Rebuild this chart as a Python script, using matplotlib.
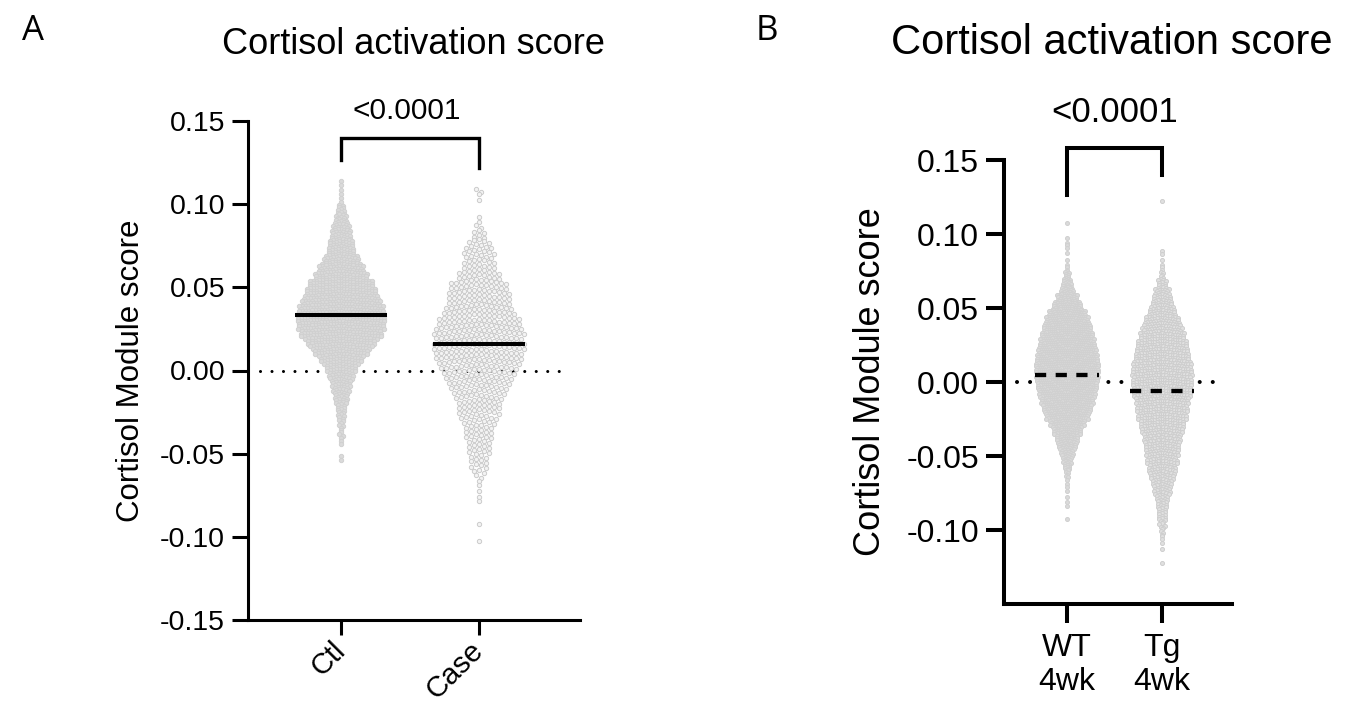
import numpy as np
import matplotlib
matplotlib.use("Agg")
import matplotlib.pyplot as plt
from matplotlib.transforms import ScaledTranslation

plt.rcParams['font.family'] = ['Liberation Sans', 'DejaVu Sans']

# ---------------------------------------------------------------------------
# Data: number of cells per 0.005-wide module-score bin, listed from the
# highest bin downwards, plus the median of each group.
# ---------------------------------------------------------------------------
BIN = 0.005

a_labels = ["Ctl", "Case"]
a_ctl_top = 0.115
a_ctl_counts = [2, 2, 2, 8, 12, 18, 22, 26, 30, 38, 48, 58, 70, 77, 85, 92,
                97, 94, 89, 74, 61, 47, 34, 28, 22, 17, 14, 10, 7, 5, 4, 3,
                0, 2]
a_case_top = 0.110
a_case_counts = [3, 1, 0, 1, 3, 5, 8, 11, 11, 12, 15, 20, 21, 22, 24, 27,
                 30, 31, 31, 31, 30, 26, 24, 21, 18, 16, 15, 13, 11, 10, 9,
                 8, 7, 6, 4, 2, 1, 2, 0, 0, 1, 0, 1]
a_medians = [0.0336, 0.016]
a_pvalue = "<0.0001"

b_labels = ["WT\n4wk", "Tg\n4wk"]
b_wt_top = 0.110
b_wt_counts = [1, 0, 1, 3, 1, 1, 3, 8, 14, 22, 34, 50, 66, 76, 84, 90, 96,
               102, 106, 110, 110, 108, 104, 98, 92, 84, 76, 62, 50, 38, 30,
               22, 15, 10, 5, 2, 2, 1, 2, 0, 1]
b_tg_top = 0.125
b_tg_counts = [1, 0, 0, 0, 0, 0, 0, 2, 1, 3, 5, 9, 15, 20, 24, 30, 38, 44,
               49, 53, 57, 60, 64, 66, 65, 64, 62, 58, 56, 53, 49, 45, 41, 38,
               35, 33, 31, 27, 22, 19, 14, 11, 9, 8, 6, 4, 2, 1, 0, 1]
b_medians = [0.005, -0.006]
b_pvalue = "<0.0001"

title = "Cortisol activation score"
ylabel = "Cortisol Module score"

# ---------------------------------------------------------------------------
W, H, DPI = 1345, 712, 100
fig = plt.figure(figsize=(W / DPI, H / DPI), dpi=DPI)


def bin_values(top, counts):
    """Spread each bin's cells evenly through that bin (descending)."""
    vals = []
    for i, n in enumerate(counts):
        hi = top - i * BIN
        for k in range(n):
            vals.append(hi - (k + 0.5) / n * BIN)
    return np.array(vals)


def row_offsets(vals, px_y, row_px, step_px):
    """Scatter-dot layout: cells falling in the same row are set side by
    side, centred on the group position.  Returns offsets in px."""
    rows = np.floor((vals.max() - vals) * px_y / row_px).astype(int)
    offs = np.zeros_like(vals)
    for r in np.unique(rows):
        idx = np.where(rows == r)[0]
        k = len(idx)
        pos = (np.arange(k) - (k - 1) / 2.0) * step_px
        offs[idx] = pos[np.argsort(np.abs(pos), kind="stable")]
    return offs


def make_axes(left, right, top, bottom):
    return fig.add_axes([left / W, 1 - bottom / H, (right - left) / W,
                         (bottom - top) / H])


def draw_group(ax, pos, vals, px_x, px_y, row_px, step_px, ms, face, edge):
    offs = row_offsets(vals, px_y, row_px, step_px) / px_x
    ax.scatter(pos + offs, vals, s=ms ** 2, facecolor=face, edgecolor=edge,
               linewidths=0.7, zorder=2, clip_on=False)


# ---------------------------- Panel A --------------------------------------
axA = make_axes(248, 580, 121, 620)
xlimA = (-0.674, 1.732)
ylimA = (-0.15, 0.15)
axA.set_xlim(*xlimA)
axA.set_ylim(*ylimA)
pxA_x = (580 - 248) / (xlimA[1] - xlimA[0])
pxA_y = (620 - 121) / (ylimA[1] - ylimA[0])

axA.plot([-0.587, 1.645], [0, 0], color="black", lw=2.2,
         ls=(0, (0.01, 3.75)), dash_capstyle="round", zorder=1)

styleA = [(2.5, 3.1, "#dadada", "#d0d0d0"), (5.0, 5.0, "#f3f3f3", "#cbcbcb")]
for i, (top, counts) in enumerate([(a_ctl_top, a_ctl_counts),
                                   (a_case_top, a_case_counts)]):
    vals = bin_values(top, counts)
    rp, sp, fc, ec = styleA[i]
    draw_group(axA, i, vals, pxA_x, pxA_y, rp, sp, 3.1, fc, ec)
    axA.plot([i - 0.333, i + 0.333], [a_medians[i]] * 2, color="black",
             lw=2.9, solid_capstyle="butt", zorder=4)

axA.set_yticks([0.15, 0.10, 0.05, 0.00, -0.05, -0.10, -0.15])
axA.set_yticklabels(["0.15", "0.10", "0.05", "0.00", "-0.05", "-0.10",
                     "-0.15"])
axA.set_xticks([0, 1])
axA.set_xticklabels(a_labels, rotation=45, ha="right", va="center",
                    rotation_mode="anchor")
shift = ScaledTranslation(-4 / 72, -10 / 72, fig.dpi_scale_trans)
for lab in axA.get_xticklabels():
    lab.set_transform(lab.get_transform() + shift)
axA.tick_params(axis="y", length=11.5, width=2.2, labelsize=20.5, pad=5)
axA.tick_params(axis="x", length=10.8, width=2.2, labelsize=21, pad=8)
for s in ("top", "right"):
    axA.spines[s].set_visible(False)
for s in ("left", "bottom"):
    axA.spines[s].set_linewidth(2.2)
axA.set_ylabel(ylabel, fontsize=22.5, va="center")
axA.yaxis.set_label_coords((131 - 248) / (580 - 248), 0.5)

# significance bracket
axA.plot([0, 0, 1, 1], [0.1266, 0.1398, 0.1398, 0.1217], color="black",
         lw=2.4, solid_joinstyle="miter", clip_on=False)
axA.text(0.48, 0.15 + 10 / pxA_y, a_pvalue, ha="center", va="center",
         fontsize=21.5)
fig.text(413 / W, 1 - 45 / H, title, ha="center", va="center", fontsize=26)
fig.text(33 / W, 1 - 31 / H, "A", ha="center", va="center", fontsize=25,
         family="Open Sans")

# ---------------------------- Panel B --------------------------------------
axB = make_axes(1004, 1232, 160, 604)
xlimB = (-0.663, 1.737)
ylimB = (-0.15, 0.15)
axB.set_xlim(*xlimB)
axB.set_ylim(*ylimB)
pxB_x = (1232 - 1004) / (xlimB[1] - xlimB[0])
pxB_y = (604 - 160) / (ylimB[1] - ylimB[0])

axB.plot([-0.526, 1.547], [0, 0], color="black", lw=2.9,
         ls=(0, (0.01, 3.23)), dash_capstyle="round", zorder=1)

styleB = [(2.2, 1.92, "#dadada", "#d0d0d0"), (2.6, 2.64, "#e0e0e0", "#cecece")]
for i, (top, counts) in enumerate([(b_wt_top, b_wt_counts),
                                   (b_tg_top, b_tg_counts)]):
    vals = bin_values(top, counts)
    rp, sp, fc, ec = styleB[i]
    draw_group(axB, i, vals, pxB_x, pxB_y, rp, sp, 2.9, fc, ec)
    axB.plot([i - 0.337, i + 0.337], [b_medians[i]] * 2, color="black",
             lw=3.1, ls=(0, (2.6, 2.2)), dash_capstyle="butt", zorder=4)

axB.set_yticks([0.15, 0.10, 0.05, 0.00, -0.05, -0.10])
axB.set_yticklabels(["0.15", "0.10", "0.05", "0.00", "-0.05", "-0.10"])
axB.set_xticks([0, 1])
axB.set_xticklabels(b_labels, linespacing=1.2)
axB.tick_params(axis="y", length=13, width=2.9, labelsize=23, pad=5)
axB.tick_params(axis="x", length=13.7, width=2.9, labelsize=23, pad=7)
for s in ("top", "right"):
    axB.spines[s].set_visible(False)
for s in ("left", "bottom"):
    axB.spines[s].set_linewidth(2.9)
axB.set_ylabel(ylabel, fontsize=26, va="center")
axB.yaxis.set_label_coords((870 - 1004) / (1232 - 1004), 0.5)

axB.plot([0, 0, 1, 1], [0.1264, 0.1581, 0.1581, 0.1399], color="black",
         lw=2.9, solid_joinstyle="miter", clip_on=False)
axB.text(0.5, 0.15 + 47 / pxB_y, b_pvalue, ha="center", va="center",
         fontsize=25)
fig.text(1112 / W, 1 - 43 / H, title, ha="center", va="center",
         fontsize=30)
fig.text(767 / W, 1 - 31 / H, "B", ha="center", va="center", fontsize=25,
         family="Open Sans")

fig.savefig("out.png", dpi=DPI)
